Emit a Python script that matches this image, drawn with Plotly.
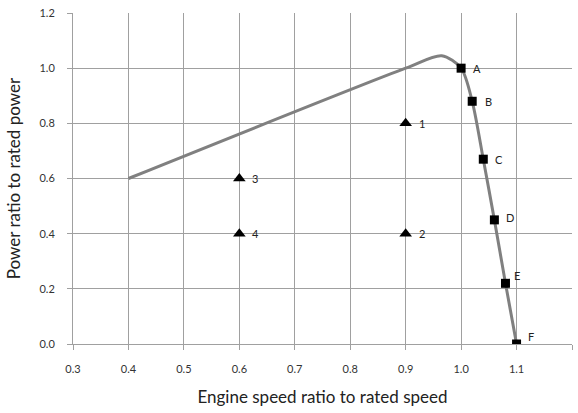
import plotly.graph_objects as go

# Curve (engine power limit)
curve_x = [0.4, 0.9, 0.965, 1.0, 1.02, 1.04, 1.06, 1.08, 1.1]
curve_y = [0.6, 1.0, 1.045, 1.0, 0.88, 0.67, 0.45, 0.22, 0.0]

# Square points on curve
sq_x = [1.0, 1.02, 1.04, 1.06, 1.08, 1.1]
sq_y = [1.0, 0.88, 0.67, 0.45, 0.22, 0.0]
sq_labels = ["A", "B", "C", "D", "E", "F"]

# Triangle operating points
tri_x = [0.9, 0.9, 0.6, 0.6]
tri_y = [0.8, 0.4, 0.6, 0.4]
tri_labels = ["1", "2", "3", "4"]

x_ticks = [0.3, 0.4, 0.5, 0.6, 0.7, 0.8, 0.9, 1.0, 1.1, 1.2]
y_ticks = [0.0, 0.2, 0.4, 0.6, 0.8, 1.0, 1.2]

font = "Lato, 'Open Sans', sans-serif"

fig = go.Figure()
fig.add_trace(go.Scatter(x=curve_x, y=curve_y, mode="lines",
                         line=dict(color="#808080", width=3, shape="spline", smoothing=0.8),
                         hoverinfo="skip", showlegend=False))
fig.add_trace(go.Scatter(x=sq_x, y=sq_y, mode="markers",
                         marker=dict(symbol="square", size=9, color="black"),
                         showlegend=False))
fig.add_trace(go.Scatter(x=tri_x, y=tri_y, mode="markers",
                         marker=dict(symbol="triangle-up", size=11, color="black"),
                         showlegend=False))

sq_shift = [(16, 0), (16, 0), (16, 0), (16, 2), (12, 8), (14, 8)]
for x, y, t, (dx, dy) in zip(sq_x, sq_y, sq_labels, sq_shift):
    fig.add_annotation(x=x, y=y, text=t, showarrow=False, xshift=dx, yshift=dy,
                       font=dict(size=11, color="#222", family=font))
for x, y, t in zip(tri_x, tri_y, tri_labels):
    fig.add_annotation(x=x, y=y, text=t, showarrow=False, xshift=16, yshift=0,
                       font=dict(size=11, color="#222", family=font))

fig.update_layout(
    width=578, height=413,
    margin=dict(l=73, r=6, t=13, b=69),
    paper_bgcolor="white", plot_bgcolor="white",
    font=dict(family=font, color="#333"),
    xaxis=dict(range=[0.3, 1.2], tickvals=x_ticks, ticktext=[f"{v:.1f}" for v in x_ticks],
               showgrid=True, gridcolor="#a0a0a0", gridwidth=1,
               showline=True, linecolor="#a0a0a0", linewidth=1,
               ticks="outside", ticklen=5, tickcolor="#a0a0a0", ticklabelstandoff=10,
               tickfont=dict(size=11, color="#333"), zeroline=False,
               title=dict(text="Engine speed ratio to rated speed",
                          font=dict(size=17, color="#222"), standoff=16)),
    yaxis=dict(range=[0, 1.2], tickvals=y_ticks, ticktext=[f"{v:.1f}" for v in y_ticks],
               showgrid=True, gridcolor="#a0a0a0", gridwidth=1,
               showline=True, linecolor="#a0a0a0", linewidth=1,
               ticks="outside", ticklen=5, tickcolor="#a0a0a0", ticklabelstandoff=10,
               tickfont=dict(size=11, color="#333"), zeroline=False,
               title=dict(text="Power ratio to rated power",
                          font=dict(size=17, color="#222"), standoff=14)),
)

fig.write_html("out.html")
